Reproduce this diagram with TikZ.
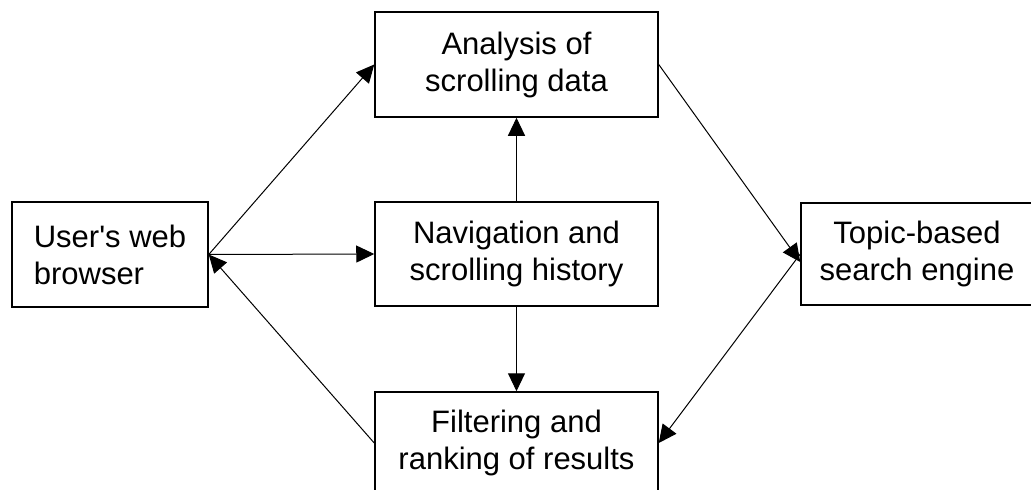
\documentclass[tikz,border=0pt]{standalone}
\usepackage{fontspec}
\newfontfamily\arialfont{Liberation Sans}
\usetikzlibrary{arrows.meta}
\tikzset{
  box/.style={draw=black, line width=1.5pt, fill=white, rectangle, align=center,
    font=\arialfont\fontsize{31}{37}\selectfont, inner sep=0pt},
  conn/.style={draw=black, line width=1pt, -{Triangle[length=18pt,width=17pt]}},
}
\begin{document}
\begin{tikzpicture}[x=1pt,y=-1pt]
\useasboundingbox (0,0) rectangle (1031,490);
\node[box, align=left, minimum width=196pt, minimum height=105pt] (user) at (110,254.5) {User\textquotesingle s web\\browser};
\node[box, minimum width=283pt, minimum height=105pt] (analysis) at (516.5,64.5) {Analysis of\\scrolling data};
\node[box, minimum width=283pt, minimum height=104pt] (nav) at (516.5,254) {Navigation and\\scrolling history};
\node[box, minimum width=283pt, minimum height=102pt] (filter) at (516.5,443) {Filtering and\\ranking of results};
\node[box, minimum width=232pt, minimum height=102pt] (topic) at (917,254) {Topic-based\\search engine};
\draw[conn] (user.east) -- (analysis.west);
\draw[conn] (user.east) -- (nav.west);
\draw[conn] (filter.west) -- (user.east);
\draw[conn] (nav.north) -- (analysis.south);
\draw[conn] (nav.south) -- (filter.north);
\draw[conn] (analysis.east) -- ([yshift=-8pt]topic.west);
\draw[conn] (topic.west) -- (filter.east);
\end{tikzpicture}
\end{document}
